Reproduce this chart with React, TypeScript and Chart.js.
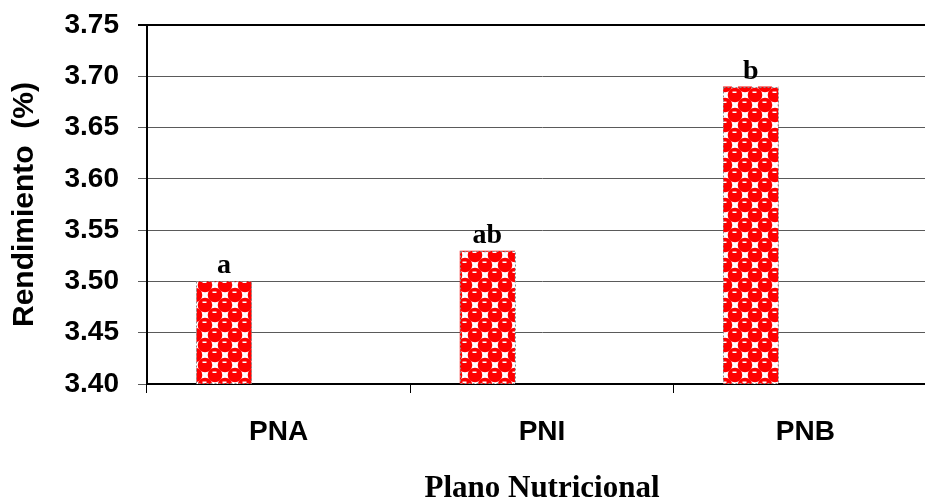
import React, { useEffect, useRef } from "react";
import { Chart, registerables } from "chart.js";

Chart.register(...registerables);

const categories = ["PNA", "PNI", "PNB"];
const rendimiento = [3.5, 3.53, 3.69];
const emptySeries = [null, null, null];
const significance = ["a", "ab", "b"];
const yMin = 3.4;
const yMax = 3.75;
const yStep = 0.05;
const yTitle = "Rendimiento  (%)";
const xTitle = "Plano Nutricional";

const CANVAS_W = 945;
const CANVAS_H = 508;

function makePattern(): CanvasPattern | string {
  const size = 20;
  const c = document.createElement("canvas");
  c.width = size;
  c.height = size;
  const g = c.getContext("2d");
  if (!g) return "#ff0000";
  g.fillStyle = "#ffffff";
  g.fillRect(0, 0, size, size);
  const centers: [number, number][] = [];
  for (const dx of [-size, 0, size]) {
    for (const dy of [-size, 0, size]) {
      centers.push([5 + dx, 5 + dy]);
      centers.push([15 + dx, 15 + dy]);
    }
  }
  g.fillStyle = "#ff0000";
  for (const [cx, cy] of centers) {
    g.beginPath();
    g.arc(cx, cy, 7.3, 0, Math.PI * 2);
    g.fill();
  }
  g.fillStyle = "#ffffff";
  for (const [cx, cy] of centers) {
    g.fillRect(cx - 2.5, cy - 3.5, 4, 1.5);
  }
  const ctx = document.createElement("canvas").getContext("2d");
  return ctx?.createPattern(c, "repeat") ?? "#ff0000";
}

const barDecor = {
  id: "barDecor",
  afterDatasetsDraw(chart: any) {
    const ctx = chart.ctx as CanvasRenderingContext2D;
    const meta = chart.getDatasetMeta(0);
    const bottom = chart.chartArea.bottom;
    ctx.save();
    meta.data.forEach((bar: any, i: number) => {
      const { x, y, width } = bar.getProps(["x", "y", "width"], true);
      ctx.setLineDash([2, 2]);
      ctx.lineWidth = 1;
      ctx.strokeStyle = "#8a8a8a";
      const left = Math.round(x - width / 2) + 0.5;
      const top = Math.round(y) + 0.5;
      ctx.strokeRect(left, top, Math.round(width), Math.round(bottom - y) - 1);
      ctx.setLineDash([]);
      ctx.fillStyle = "#000000";
      ctx.font = "bold 28px 'Liberation Serif', 'Times New Roman', serif";
      ctx.textAlign = "center";
      ctx.textBaseline = "alphabetic";
      ctx.fillText(significance[i], x, y - 8);
    });
    ctx.restore();
  },
};

export default function App() {
  const canvasRef = useRef<HTMLCanvasElement | null>(null);

  useEffect(() => {
    const canvas = canvasRef.current;
    if (!canvas) return;
    const pattern = makePattern();
    const sans = "'Liberation Sans', Arial, sans-serif";
    const serif = "'Liberation Serif', 'Times New Roman', serif";
    const chart = new Chart(canvas, {
      type: "bar",
      data: {
        labels: categories,
        datasets: [
          {
            label: "Rendimiento",
            data: rendimiento,
            backgroundColor: pattern as any,
            borderWidth: 0,
            categoryPercentage: 0.83,
            barPercentage: 0.505,
          },
          {
            label: "",
            data: emptySeries as any,
            backgroundColor: "transparent",
            categoryPercentage: 0.83,
            barPercentage: 0.505,
          },
        ],
      },
      options: {
        responsive: false,
        animation: false,
        devicePixelRatio: 1,
        layout: { padding: { left: 0, right: 8, top: 25, bottom: 0 } },
        plugins: {
          legend: { display: false },
          tooltip: { enabled: false },
        },
        scales: {
          x: {
            offset: true,
            afterFit: (scale: any) => {
              scale.height = CANVAS_H - 384;
              scale.paddingLeft = 0;
              scale.paddingRight = 0;
            },
            grid: {
              offset: true,
              display: true,
              drawOnChartArea: false,
              drawTicks: true,
              tickLength: 9,
              color: "#000000",
              lineWidth: 1,
            },
            border: { display: true, color: "#000000", width: 2 },
            ticks: {
              color: "#000000",
              padding: 22,
              font: { family: sans, size: 28, weight: "bold" },
              maxRotation: 0,
            },
            title: {
              display: true,
              text: xTitle,
              color: "#000000",
              font: { family: serif, size: 31, weight: "bold" },
              padding: { top: 0, bottom: 0 },
            },
          },
          y: {
            min: yMin,
            max: yMax,
            afterFit: (scale: any) => {
              scale.width = 147;
              scale.paddingTop = 0;
              scale.paddingBottom = 0;
            },
            grid: {
              drawTicks: true,
              tickLength: 9,
              color: (c: any) => (c.tick && Math.abs(c.tick.value - yMax) < 1e-6 ? "#000000" : "#5a5a5a"),
              lineWidth: (c: any) => (c.tick && Math.abs(c.tick.value - yMax) < 1e-6 ? 2 : 1),
            },
            border: { display: true, color: "#000000", width: 2 },
            ticks: {
              stepSize: yStep,
              color: "#000000",
              padding: 19,
              font: { family: sans, size: 28, weight: "bold" },
              callback: (v: any) => Number(v).toFixed(2),
            },
            title: {
              display: true,
              text: yTitle,
              color: "#000000",
              font: { family: sans, size: 30, weight: "bold" },
              padding: { top: 7, bottom: 0 },
            },
          },
        },
      },
      plugins: [barDecor],
    });
    return () => chart.destroy();
  }, []);

  return (
    <div
      style={{
        position: "fixed",
        left: 0,
        top: 0,
        width: 925,
        height: 499,
        overflow: "hidden",
        background: "#ffffff",
      }}
    >
      <canvas
        ref={canvasRef}
        width={CANVAS_W}
        height={CANVAS_H}
        style={{ display: "block", width: CANVAS_W, height: CANVAS_H }}
      />
    </div>
  );
}
